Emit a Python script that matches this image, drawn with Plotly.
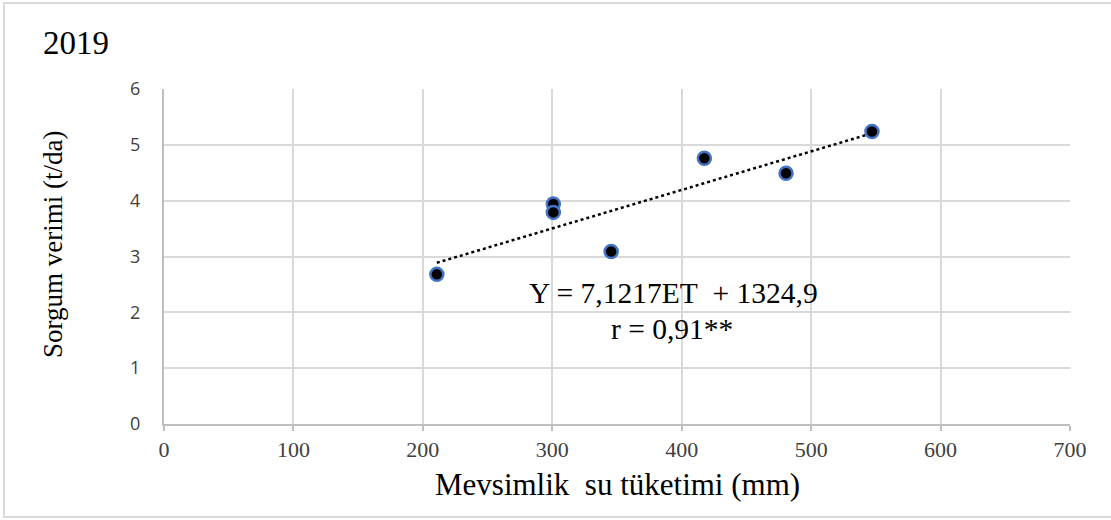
import numpy as np
import plotly.graph_objects as go

# Data
water_use_mm = [210.8, 300.8, 300.8, 345.5, 417.5, 480.6, 547.0]
yield_t_da = [2.68, 3.94, 3.79, 3.09, 4.76, 4.49, 5.24]

x_ticks = [0, 100, 200, 300, 400, 500, 600, 700]
y_ticks = [0, 1, 2, 3, 4, 5, 6]

title_text = "2019"
x_title = "Mevsimlik\u00a0\u00a0su tüketimi (mm)"
y_title = "Sorgum verimi (t/da)"
eq_text = "Y = 7,1217ET\u00a0\u00a0+ 1324,9"
r_text = "r = 0,91**"

# linear trendline fitted to the points
slope, intercept = np.polyfit(water_use_mm, yield_t_da, 1)
tx = [min(water_use_mm), max(water_use_mm)]
ty = [slope * v + intercept for v in tx]

serif = "Liberation Serif, Times New Roman, serif"

fig = go.Figure()
fig.add_trace(go.Scatter(x=tx, y=ty, mode="lines",
                         line=dict(color="black", width=2.5, dash="dot"),
                         hoverinfo="skip", showlegend=False))
fig.add_trace(go.Scatter(x=water_use_mm, y=yield_t_da, mode="markers",
                         marker=dict(size=13, color="black",
                                     line=dict(color="#4472c4", width=2.5)),
                         showlegend=False))

L, R, T, B = 164, 41, 89, 96
W, H = 1111, 520
pw = W - L - R
ph = H - T - B

def px(xp):
    return (xp - L) / pw

def py(yp):
    return (H - B - yp) / ph

fig.update_layout(
    width=W, height=H,
    margin=dict(l=L, r=R, t=T, b=B),
    paper_bgcolor="white", plot_bgcolor="white",
    showlegend=False,
    xaxis=dict(range=[0, 700], tickvals=x_ticks, showgrid=True,
               gridcolor="#d9d9d9", gridwidth=2, zeroline=False,
               showline=True, linecolor="#bfbfbf", linewidth=2,
               ticks="outside", ticklen=5, tickcolor="#bfbfbf", tickwidth=2,
               tickfont=dict(family=serif, size=22, color="#404040")),
    yaxis=dict(range=[0, 6], tickvals=y_ticks, showgrid=True,
               gridcolor="#d9d9d9", gridwidth=2, zeroline=False,
               showline=True, linecolor="#bfbfbf", linewidth=2,
               ticks="", ticklabelstandoff=18,
               tickfont=dict(family="Open Sans, sans-serif", size=18, color="#404040")),
    annotations=[
        dict(text=title_text, xref="paper", yref="paper", x=px(41), y=py(43),
             xanchor="left", yanchor="middle", showarrow=False,
             font=dict(family=serif, size=33, color="black")),
        dict(text=x_title, xref="paper", yref="paper", x=px(617), y=py(484),
             xanchor="center", yanchor="middle", showarrow=False,
             font=dict(family=serif, size=31, color="black")),
        dict(text=y_title, xref="paper", yref="paper", x=px(53), y=py(245),
             xanchor="center", yanchor="middle", showarrow=False, textangle=-90,
             font=dict(family=serif, size=27, color="black")),
        dict(text=eq_text, xref="paper", yref="paper", x=px(673), y=py(293),
             xanchor="center", yanchor="middle", showarrow=False,
             font=dict(family=serif, size=29.5, color="black")),
        dict(text=r_text, xref="paper", yref="paper", x=px(672), y=py(329),
             xanchor="center", yanchor="middle", showarrow=False,
             font=dict(family=serif, size=29.5, color="black")),
    ],
    shapes=[
        dict(type="rect", xref="paper", yref="paper",
             x0=px(4), x1=px(1300), y0=py(517), y1=py(3),
             line=dict(color="#d9d9d9", width=2), fillcolor="rgba(0,0,0,0)",
             layer="below"),
    ],
)

fig.write_html("out.html", config={"displayModeBar": False},
               post_script="document.body.style.margin='0';document.body.style.overflow='hidden';")
